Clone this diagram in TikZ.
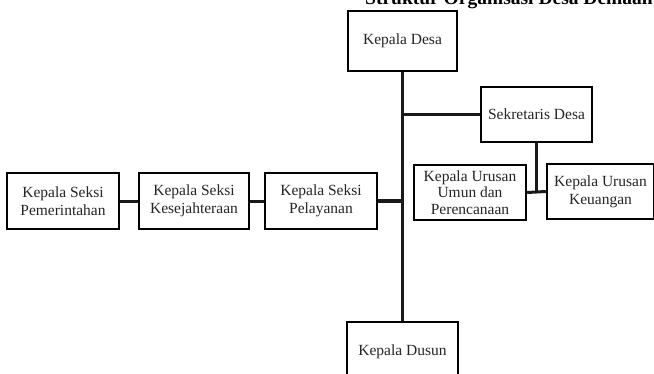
\documentclass[tikz,border=0pt]{standalone}
\usepackage{fontspec}
\setmainfont{Liberation Serif}
\usetikzlibrary{positioning}

\begin{document}
\begin{tikzpicture}[
                x=1pt, y=-1pt,
                line join=miter,
                jabatan/.style={shape=rectangle, draw=black, line width=2.4pt, fill=white, align=center, inner sep=2pt,
                    font=\fontsize{15.5}{18}\selectfont, text=black!85},
                garis/.style={draw=black!90, line width=3pt}
                ]
                \useasboundingbox (0,0) rectangle (654,373);

                %% Title
                \node[anchor=base, font=\fontsize{19.5}{22}\selectfont\bfseries] (judul) at (509,4) {Struktur Organisasi Desa Demaan};

                %% Boxes
                \node[jabatan, minimum width=109pt, minimum height=60pt] (desa) at (402.5,41) {Kepala Desa};
                \node[jabatan, minimum width=111pt, minimum height=55pt] (sekdes) at (536.5,114.5) {Sekretaris Desa};
                \node[jabatan, minimum width=112pt, minimum height=55pt, font=\fontsize{15.5}{16.5}\selectfont] (umum) at (470,192.5) {Kepala Urusan\\Umun dan\\Perencanaan};
                \node[jabatan, minimum width=107pt, minimum height=55pt] (keuangan) at (600.5,191.5) {Kepala Urusan\\Keuangan};
                \node[jabatan, minimum width=112pt, minimum height=56pt] (pemerintahan) at (63,201) {Kepala Seksi\\Pemerintahan};
                \node[jabatan, minimum width=110pt, minimum height=56pt] (kesejahteraan) at (194,201) {Kepala Seksi\\Kesejahteraan};
                \node[jabatan, minimum width=112pt, minimum height=56pt] (pelayanan) at (321,201) {Kepala Seksi\\Pelayanan};
                \node[jabatan, minimum width=111pt, minimum height=60pt] (dusun) at (402.5,352) {Kepala Dusun};

                %% Lines
                \draw[garis] (desa.south) -- (dusun.north);
                \draw[garis] (sekdes.west) -- (sekdes.west -| desa.south);
                \draw[garis, line width=4pt] (pelayanan.east) -- (pelayanan.east -| desa.south);
                \draw[garis] (kesejahteraan.east) -- (pelayanan.west);
                \draw[garis] (pemerintahan.east) -- (kesejahteraan.west);
                \draw[garis] (sekdes.south) -- (sekdes.south |- umum.east);
                \draw[garis] (umum.east) -- (keuangan.west);
\end{tikzpicture}
\end{document}
